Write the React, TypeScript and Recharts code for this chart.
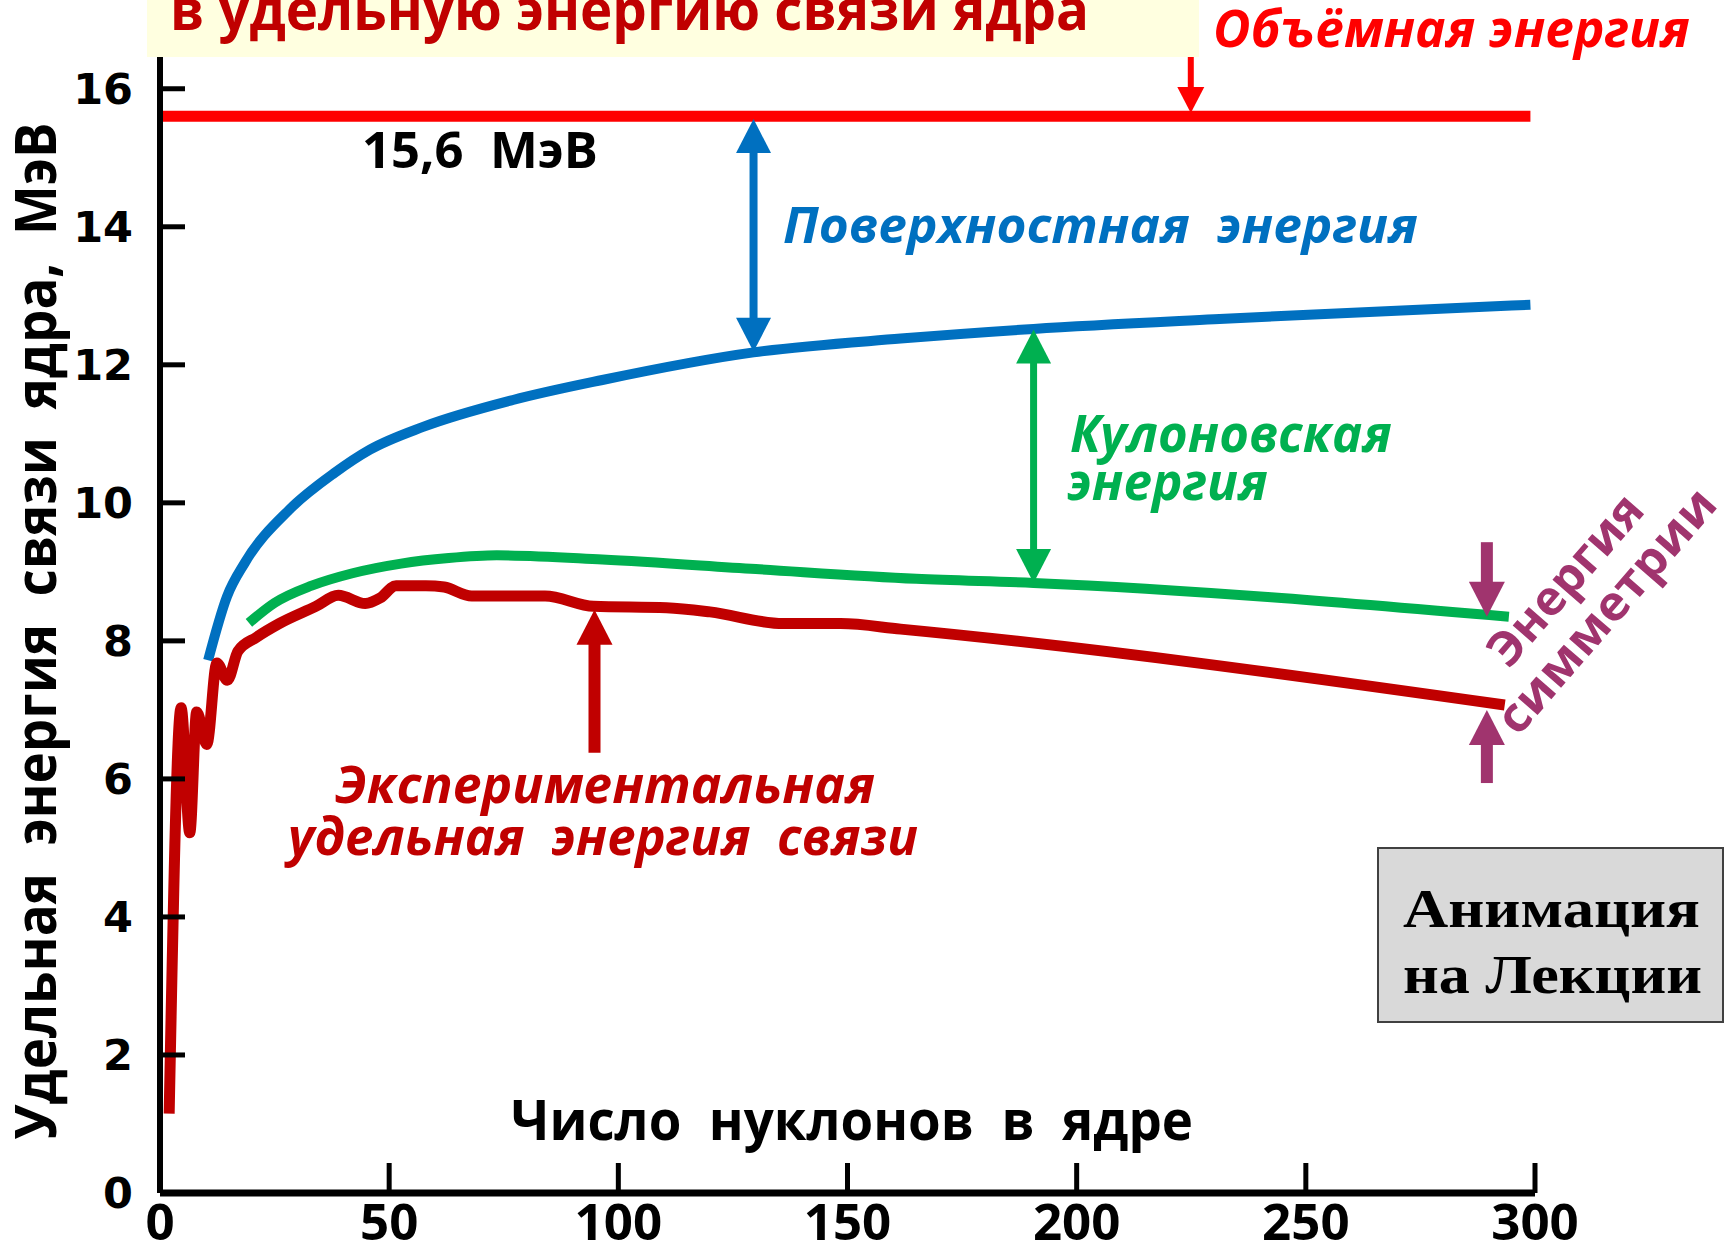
import React from 'react';
import { LineChart, Line, XAxis, YAxis, ReferenceLine } from 'recharts';

// число нуклонов A и удельная энергия связи, МэВ
const bulkA = [0, 299];
const bulkE = [15.6, 15.6];

const surfaceA = [10.5, 14.6, 18.5, 28.2, 38, 45.8, 57.4, 77, 96.5, 129.5, 161.6, 190.6, 230, 265, 299];
const surfaceE = [7.72, 8.64, 9.13, 9.9, 10.43, 10.77, 11.1, 11.49, 11.78, 12.18, 12.38, 12.52, 12.66, 12.77, 12.87];

const coulombA = [19.4, 25, 33.1, 42, 52.6, 63, 73.5, 96.5, 130, 165, 190.6, 294.3];
const coulombE = [8.26, 8.55, 8.8, 8.98, 9.12, 9.2, 9.24, 9.18, 9.04, 8.9, 8.84, 8.35];

const expA = [2, 4.6, 6.5, 8, 10.2, 12.4, 14.7, 17, 21, 26, 34, 38.9, 44.8, 48, 51.5, 58, 62, 68, 84, 94.6, 110.5, 120, 136, 148.5, 161.6, 293.4];
const expE = [1.15, 7.03, 5.22, 6.97, 6.5, 7.68, 7.43, 7.85, 8.05, 8.25, 8.5, 8.66, 8.54, 8.62, 8.8, 8.8, 8.78, 8.65, 8.65, 8.5, 8.48, 8.42, 8.25, 8.25, 8.17, 7.07];

const xTicks = [0, 50, 100, 150, 200, 250, 300];
const yTicks = [0, 2, 4, 6, 8, 10, 12, 14, 16];

// стрелки: [A, откуда, куда (острие)]
const bulkArrow = [224.9, 16.84, 15.65];
const surfaceArrow = [129.5, 15.56, 12.19];
const coulombArrow = [190.6, 12.51, 8.84];
const expArrow = [94.8, 6.38, 8.45];
const symDownArrow = [289.5, 9.43, 8.35];
const symUpArrow = [289.5, 5.94, 7.0];

const rows = (a: number[], e: number[]) => a.map((v, i) => ({ a: v, e: e[i] }));

const sans = "'Open Sans', 'Noto Sans', sans-serif";

const arrowShape =
  (color: string, shaft: number, headW: number, headL: number, both: boolean) => (p: any) => {
    const { x1, y1, x2, y2 } = p;
    const dir = Math.sign(y2 - y1);
    const head = (tx: number, ty: number, d: number) =>
      `M${tx},${ty} L${tx - headW / 2},${ty - d * headL} L${tx + headW / 2},${ty - d * headL} Z`;
    const s1 = both ? y1 + dir * (headL - 2) : y1;
    const s2 = y2 - dir * (headL - 2);
    return (
      <g>
        <line x1={x1} y1={s1} x2={x2} y2={s2} stroke={color} strokeWidth={shaft} />
        <path d={head(x2, y2, dir)} fill={color} />
        {both && <path d={head(x1, y1, -dir)} fill={color} />}
      </g>
    );
  };

const arrow = (v: number[], shape: (p: any) => any, key: string) => (
  <ReferenceLine
    key={key}
    segment={[{ x: v[0], y: v[1] }, { x: v[0], y: v[2] }]}
    ifOverflow="visible"
    shape={shape}
  />
);

const pre = { whiteSpace: 'pre' as const };

export default function App() {
  return (
    <div style={{ position: 'absolute', left: 0, top: 0, width: 1725, height: 1246, background: '#fff' }}>
      <LineChart width={1725} height={1246} margin={{ top: 57, right: 190, bottom: 0, left: 0 }}>
        <XAxis
          dataKey="a"
          type="number"
          domain={[0, 300]}
          ticks={xTicks}
          interval={0}
          height={53}
          axisLine={{ stroke: '#000', strokeWidth: 7 }}
          tickLine={{ stroke: '#000', strokeWidth: 5 }}
          tickSize={-30}
          tickMargin={41}
          tick={{ fill: '#000', fontSize: 51, fontWeight: 700, fontFamily: sans }}
        />
        <YAxis
          type="number"
          domain={[0, 16.46]}
          ticks={yTicks}
          interval={0}
          width={160}
          axisLine={{ stroke: '#000', strokeWidth: 6 }}
          tickLine={{ stroke: '#000', strokeWidth: 5 }}
          tickSize={-25}
          tickMargin={52}
          tick={{ fill: '#000', fontSize: 43, fontWeight: 700, fontFamily: 'DejaVu Sans' }}
        />
        <Line data={rows(bulkA, bulkE)} dataKey="e" type="linear" stroke="#ff0000" strokeWidth={11} dot={false} activeDot={false} isAnimationActive={false} />
        <Line data={rows(surfaceA, surfaceE)} dataKey="e" type="monotone" stroke="#0070c0" strokeWidth={10} dot={false} activeDot={false} isAnimationActive={false} />
        <Line data={rows(coulombA, coulombE)} dataKey="e" type="monotone" stroke="#00b050" strokeWidth={10} dot={false} activeDot={false} isAnimationActive={false} />
        <Line data={rows(expA, expE)} dataKey="e" type="monotone" stroke="#c00000" strokeWidth={11} dot={false} activeDot={false} isAnimationActive={false} />
        {arrow(bulkArrow, arrowShape('#ff0000', 6, 27, 26, false), 'bulk')}
        {arrow(surfaceArrow, arrowShape('#0070c0', 8, 35, 34, true), 'surf')}
        {arrow(coulombArrow, arrowShape('#00b050', 7, 35, 34, true), 'coul')}
        {arrow(expArrow, arrowShape('#c00000', 12, 36, 35, false), 'exp')}
        {arrow(symDownArrow, arrowShape('#a0346e', 12, 36, 35, false), 'symd')}
        {arrow(symUpArrow, arrowShape('#a0346e', 12, 36, 35, false), 'symu')}
      </LineChart>

      <svg width={1725} height={1246} style={{ position: 'absolute', left: 0, top: 0, pointerEvents: 'none' }}>
        <g fontFamily={sans} fontWeight={700}>
          <rect x={147} y={0} width={1052} height={57} fill="#ffffe0" />
          <text x={170} y={30} fontSize={58} fill="#c00000" textLength={919} lengthAdjust="spacingAndGlyphs">
            в удельную энергию связи ядра
          </text>

          <text x={1213} y={47} fontSize={52} fontStyle="italic" fill="#ff0000" textLength={477} lengthAdjust="spacingAndGlyphs">
            Объёмная энергия
          </text>
          <text x={362} y={168} fontSize={50} fill="#000" style={pre} xmlSpace="preserve" textLength={236} lengthAdjust="spacingAndGlyphs">
            {'15,6  МэВ'}
          </text>
          <text x={783} y={243} fontSize={50} fontStyle="italic" fill="#0070c0" style={pre} xmlSpace="preserve" textLength={635} lengthAdjust="spacingAndGlyphs">
            {'Поверхностная  энергия'}
          </text>
          <text x={1070} y={452} fontSize={52} fontStyle="italic" fill="#00b050" textLength={322} lengthAdjust="spacingAndGlyphs">
            Кулоновская
          </text>
          <text x={1067} y={500} fontSize={52} fontStyle="italic" fill="#00b050" textLength={201} lengthAdjust="spacingAndGlyphs">
            энергия
          </text>
          <text x={335} y={803} fontSize={52} fontStyle="italic" fill="#c00000" textLength={540} lengthAdjust="spacingAndGlyphs">
            Экспериментальная
          </text>
          <text x={288} y={855} fontSize={52} fontStyle="italic" fill="#c00000" style={pre} xmlSpace="preserve" textLength={630} lengthAdjust="spacingAndGlyphs">
            {'удельная  энергия  связи'}
          </text>

          <text x={1568} y={582} dy="0.27em" fontSize={48} fill="#a0346e" textAnchor="middle" transform="rotate(-49 1568 582)" textLength={210} lengthAdjust="spacingAndGlyphs">
            Энергия
          </text>
          <text x={1609} y={613} dy="0.27em" fontSize={48} fill="#a0346e" textAnchor="middle" transform="rotate(-49 1609 613)" textLength={307} lengthAdjust="spacingAndGlyphs">
            симметрии
          </text>

          <text x={511} y={1140} fontSize={56} fill="#000" style={pre} xmlSpace="preserve" textLength={682} lengthAdjust="spacingAndGlyphs">
            {'Число  нуклонов  в  ядре'}
          </text>
          <text x={56} y={631} fontSize={58} fill="#000" textAnchor="middle" transform="rotate(-90 56 631)" style={pre} xmlSpace="preserve" textLength={1017} lengthAdjust="spacingAndGlyphs">
            {'Удельная  энергия  связи  ядра,  МэВ'}
          </text>
        </g>

        <rect x={1378} y={848} width={345} height={174} fill="#d9d9d9" stroke="#404040" strokeWidth={2} />
        <g fontFamily="'Liberation Serif', 'Times New Roman', serif" fontWeight={700} fontSize={54} fill="#000">
          <text x={1403} y={927} textLength={297} lengthAdjust="spacingAndGlyphs">Анимация</text>
          <text x={1403} y={993} textLength={299} lengthAdjust="spacingAndGlyphs">на Лекции</text>
        </g>
      </svg>
    </div>
  );
}
